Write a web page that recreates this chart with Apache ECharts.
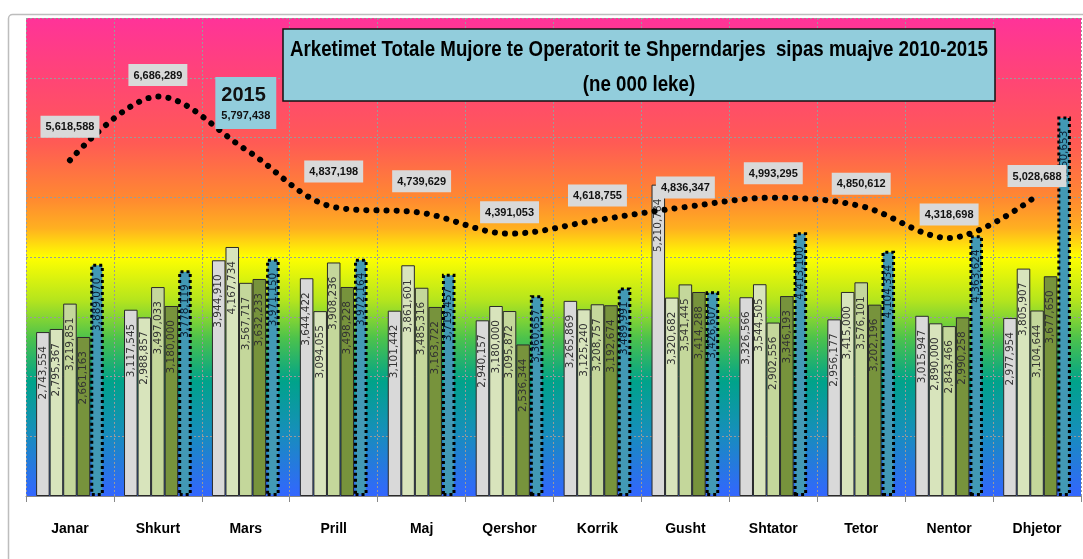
<!DOCTYPE html>
<html>
<head>
<meta charset="utf-8">
<script src="https://cdn.jsdelivr.net/npm/echarts@6/dist/echarts.min.js"></script>
<style>
  html, body { margin: 0; padding: 0; background: #fff; }
  #main { width: 1083px; height: 559px; }
</style>
</head>
<body>
<div id="main"></div>
<script>
var months = ['Janar', 'Shkurt', 'Mars', 'Prill', 'Maj', 'Qershor', 'Korrik', 'Gusht', 'Shtator', 'Tetor', 'Nentor', 'Dhjetor'];
var y2010 = [2743554, 3117545, 3944910, 3644422, 3101442, 2940157, 3265869, 5210784, 3326566, 2956177, 3015947, 2977954];
var y2011 = [2795367, 2988857, 4167734, 3094055, 3861601, 3180000, 3125240, 3320682, 3544505, 3415000, 2890000, 3805907];
var y2012 = [3219851, 3497033, 3567717, 3908236, 3485316, 3095872, 3208757, 3541445, 2902556, 3576101, 2843466, 3104644];
var y2013 = [2661163, 3180000, 3632233, 3498228, 3163722, 2536344, 3192674, 3414288, 3346193, 3202196, 2990258, 3677650];
var y2014 = [3889070, 3778119, 3971150, 3972164, 3719457, 3360657, 3489991, 3426607, 4413100, 4104334, 4363624, 6350653];
var y2015 = [5618588, 6686289, 5797438, 4837198, 4739629, 4391053, 4618755, 4836347, 4993295, 4850612, 4318698, 5028688];

var SANS = '"Liberation Sans", Arial, sans-serif';

// how far each line label sits above its point (px)
var labelGap = [22, 10, 20, 24, 20, 10, 13, 8, 13, 11, 12, 8];

function fmt(v) {
    return String(v).replace(/\B(?=(\d{3})+(?!\d))/g, ',');
}

function barSeries(name, data, color, teal) {
    return {
        name: name,
        type: 'bar',
        data: data,
        barGap: '0%',
        barCategoryGap: '23%',
        itemStyle: teal ? {
            color: color,
            borderColor: '#000',
            borderWidth: 3,
            borderType: [3, 3]
        } : {
            color: color,
            borderColor: '#2a2a2a',
            borderWidth: 1
        },
        label: {
            show: true,
            position: 'insideTop',
            rotate: 90,
            align: 'right',
            verticalAlign: 'middle',
            distance: 14,
            fontSize: 10.5,
            fontFamily: '"DejaVu Sans", sans-serif',
            color: teal ? '#0b1e33' : '#333',
            formatter: function (p) { return fmt(p.value); }
        },
        z: 2
    };
}

// 2015 line, Mars gets the big "2015" box
var lineData = y2015.map(function (v, i) {
    if (i == 2) {
        return {
            value: v,
            label: {
                distance: labelGap[i],
                backgroundColor: '#92cddc',
                padding: [5, 6, 5, 6],
                formatter: '{y|2015}\n{v|' + fmt(v) + '}',
                rich: {
                    y: { fontSize: 20, fontWeight: 'bold', fontFamily: SANS, color: '#111', lineHeight: 26, align: 'left' },
                    v: { fontSize: 11, fontWeight: 'bold', fontFamily: SANS, color: '#111', lineHeight: 16 }
                }
            }
        };
    }
    return { value: v, label: { distance: labelGap[i] } };
});

var chart = echarts.init(document.getElementById('main'));
var option = {
    animation: false,
    backgroundColor: '#fff',
    grid: {
        left: 26,
        right: 2,
        top: 18,
        bottom: 63,
        show: true,
        borderWidth: 0,
        backgroundColor: {
            type: 'linear', x: 0, y: 0, x2: 0, y2: 1,
            colorStops: [
                { offset: 0, color: '#ff3399' },
                { offset: 0.12, color: '#ff4477' },
                { offset: 0.26, color: '#ff5a55' },
                { offset: 0.38, color: '#ff8a30' },
                { offset: 0.44, color: '#ffb020' },
                { offset: 0.50, color: '#ffff00' },
                { offset: 0.59, color: '#b5e51d' },
                { offset: 0.67, color: '#4cc24c' },
                { offset: 0.76, color: '#00a38a' },
                { offset: 0.86, color: '#1590b8' },
                { offset: 1, color: '#3366ff' }
            ]
        }
    },
    xAxis: {
        type: 'category',
        data: months,
        axisLine: { show: true, lineStyle: { color: '#888', width: 1 } },
        axisTick: { show: true, length: 6, interval: 0, lineStyle: { color: '#888' } },
        axisLabel: {
            interval: 0,
            margin: 26,
            fontSize: 14,
            fontWeight: 'bold',
            fontFamily: SANS,
            color: '#000'
        },
        splitLine: { show: true, interval: 0, lineStyle: { color: '#9a9a9a', type: [2, 2] } }
    },
    yAxis: {
        type: 'value',
        min: 0,
        max: 8000000,
        interval: 1000000,
        axisLabel: { show: false },
        axisLine: { show: false },
        axisTick: { show: false },
        splitLine: { show: true, lineStyle: { color: '#9a9a9a', type: [2, 2] } }
    },
    series: [
        barSeries('2010', y2010, '#d9d9d9', false),
        barSeries('2011', y2011, '#d8e4bc', false),
        barSeries('2012', y2012, '#c4d79b', false),
        barSeries('2013', y2013, '#77933c', false),
        barSeries('2014', y2014, '#4299b5', true),
        {
            name: '2015',
            type: 'line',
            data: lineData,
            smooth: 0.35,
            symbol: 'circle',
            symbolSize: 1,
            showAllSymbol: true,
            itemStyle: { color: 'rgba(0,0,0,0)' },
            lineStyle: { color: '#000', width: 6, type: [0.1, 10], cap: 'round' },
            label: {
                show: true,
                position: 'top',
                distance: 16,
                backgroundColor: '#d9d9d9',
                padding: [6, 5, 5, 5],
                fontSize: 11,
                fontWeight: 'bold',
                fontFamily: SANS,
                color: '#111',
                formatter: function (p) { return fmt(p.value); }
            },
            z: 5
        }
    ],
    graphic: [
        {
            type: 'rect',
            silent: true,
            z: 0,
            shape: { x: 8.5, y: 14.5, width: 1100, height: 600, r: 4 },
            style: { fill: 'none', stroke: '#bdbdbd', lineWidth: 1.5 }
        },
        {
            type: 'rect',
            z: 100,
            shape: { x: 283, y: 29, width: 712, height: 72 },
            style: { fill: '#92cddc', stroke: '#111', lineWidth: 1.5 }
        },
        {
            type: 'text',
            z: 101,
            x: 639,
            y: 50,
            scaleX: 0.85,
            style: {
                text: 'Arketimet Totale Mujore te Operatorit te Shperndarjes  sipas muajve 2010-2015',
                font: 'bold 22px ' + SANS,
                fill: '#000',
                textAlign: 'center',
                textVerticalAlign: 'middle'
            }
        },
        {
            type: 'text',
            z: 101,
            x: 639,
            y: 85,
            scaleX: 0.85,
            style: {
                text: '(ne 000 leke)',
                font: 'bold 22px ' + SANS,
                fill: '#000',
                textAlign: 'center',
                textVerticalAlign: 'middle'
            }
        }
    ]
};
chart.setOption(option);
</script>
</body>
</html>
